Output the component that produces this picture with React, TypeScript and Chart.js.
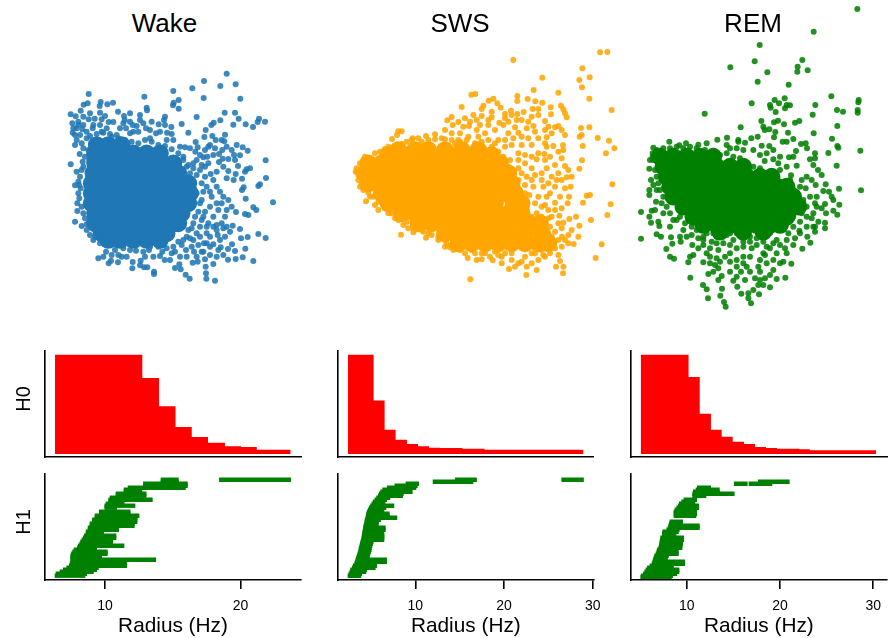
import React, { useEffect, useRef } from "react";
import { Chart, registerables } from "chart.js";

Chart.register(...registerables);

type Pt = [number, number];
type CoreRow = [number, number[]];
type Bar = [number, number, number];

const panelTitles = ["Wake", "SWS", "REM"];
const xTicksWake = [10, 20];
const xTicksSws = [10, 20, 30];
const xTicksRem = [10, 20, 30];

// Scatter clouds, arbitrary projection units. "Core" rows stand for the saturated centre of each cloud.
const wakeCore: CoreRow[] = [
  [255, [140, 175, 215]],
  [280, [135, 170, 210, 250, 290, 330]],
  [310, [135, 170, 210, 250, 290, 330, 370]],
  [340, [130, 160, 200, 240, 280, 320, 360, 385]],
  [370, [125, 155, 195, 235, 275, 315, 355, 395, 415]],
  [400, [125, 155, 195, 235, 275, 315, 355, 395, 420]],
  [430, [125, 155, 195, 235, 275, 315, 355, 395, 415]],
  [460, [135, 170, 210, 250, 290, 330, 370, 395]],
  [490, [135, 170, 210, 250, 290, 330, 370, 385]],
  [520, [155, 190, 230, 270, 310, 350]],
  [540, [175, 210, 250, 290, 330]],
];
const wakeEdge: Pt[] = [[530,41],[462,63],[557,73],[511,78],[427,85],[370,93],[116,102],[283,110],[461,114],[571,116],[386,120],[371,128],[152,126],[113,130],[101,134],[189,128],[172,133],[149,138],[386,146],[369,136],[290,143],[291,151],[92,152],[204,155],[524,158],[555,158],[62,163],[150,158],[165,168],[77,169],[240,160],[222,168],[270,165],[345,170],[440,171],[116,178],[134,176],[566,176],[627,176],[623,186],[511,181],[491,188],[645,185],[587,193],[609,201],[550,194],[395,192],[484,195],[305,185],[342,180],[326,193],[345,195],[364,201],[176,186],[190,186],[224,180],[248,195],[260,198],[280,190],[67,190],[85,185],[97,208],[80,205],[68,218],[128,205],[415,218],[467,210],[351,218],[525,224],[463,231],[487,228],[228,205],[288,205],[318,220],[155,215],[180,222],[200,225],[265,215],[240,220],[80,240],[110,235],[89,282],[75,255],[437,246],[523,244],[515,240],[497,240],[475,260],[560,255],[578,262],[593,272],[517,270],[507,282],[490,285],[420,265],[405,262],[443,262],[436,275],[460,292],[472,290],[570,286],[552,285],[535,297],[518,296],[507,306],[647,301],[62,313],[475,310],[440,300],[400,290],[564,318],[600,325],[590,328],[535,333],[585,335],[557,342],[482,342],[551,360],[576,356],[648,354],[630,373],[625,378],[581,382],[576,390],[500,380],[587,416],[669,427],[610,442],[619,450],[595,465],[585,462],[558,456],[535,420],[545,440],[510,395],[520,410],[500,430],[485,410],[480,440],[505,450],[525,470],[548,497],[490,470],[475,490],[540,515],[570,507],[625,522],[647,534],[593,531],[573,535],[520,505],[500,495],[503,525],[470,520],[450,500],[546,553],[534,567],[555,573],[586,566],[512,562],[490,553],[462,550],[430,540],[75,485],[95,498],[110,493],[82,430],[82,453],[75,376],[87,375],[85,400],[80,335],[100,320],[125,470],[135,510],[130,540],[150,550],[168,575],[195,570],[215,590],[145,595],[183,602],[176,610],[204,607],[248,606],[272,602],[282,622],[292,622],[247,625],[270,616],[312,635],[312,642],[330,588],[344,600],[375,624],[388,613],[392,628],[407,644],[419,656],[468,640],[467,620],[469,656],[495,662],[534,599],[557,597],[578,592],[610,603],[490,612],[443,605],[428,608],[465,598],[240,570],[258,572],[297,570],[337,575],[365,580],[408,570],[432,575],[455,575],[480,585],[300,560],[220,565],[440,345],[455,370],[460,395],[450,430],[435,470],[425,505],[410,530],[385,545],[370,560]];
const wakeFringe: Pt[] = [[95,250],[100,265],[105,290],[98,305],[95,330],[90,350],[85,365],[92,385],[88,415],[95,440],[100,460],[105,475],[110,510],[120,525],[135,530],[118,300],[115,270],[120,228],[140,222],[160,218],[185,230],[205,235],[225,240],[245,245],[265,250],[285,240],[305,245],[325,255],[345,258],[365,268],[385,280],[400,300],[415,315],[430,325],[420,340],[410,360],[425,380],[440,400],[455,420],[470,380],[465,350],[450,330],[490,360],[480,395],[465,455],[445,455],[455,480],[430,490],[440,520],[415,510],[420,535],[395,555],[400,540],[375,575],[350,565],[325,560],[280,575],[260,555],[235,550],[200,545],[180,555],[160,535],[145,525],[470,550],[480,530],[500,510],[515,490],[530,500],[530,450],[515,430],[490,500],[460,470],[470,500],[450,530],[445,555],[425,560],[510,540],[525,530],[480,560],[505,570],[460,575],[500,590],[520,585],[440,590],[410,590],[390,590],[360,600],[310,590],[285,590],[230,590],[205,585],[185,585],[160,590],[130,195],[150,195],[170,205],[210,205],[250,215],[300,210],[330,215],[300,235],[350,240],[370,240],[390,260],[365,222],[220,190],[240,185],[270,180],[155,178],[100,195],[110,215],[90,225],[75,225],[70,205],[100,170],[85,195],[120,160],[410,320],[430,310],[450,285],[465,270],[480,255],[495,265],[530,260],[545,270],[555,300],[520,320],[500,335],[465,320],[455,315],[530,355]];

const swsCore: CoreRow[] = [
  [330, [160, 210, 250, 300, 350, 400]],
  [345, [130, 170, 210, 250, 300, 350, 400, 440]],
  [370, [70, 110, 150, 190, 230, 270, 310, 350, 390, 430, 465]],
  [400, [60, 100, 140, 180, 220, 260, 300, 340, 380, 420, 460, 490]],
  [430, [70, 110, 150, 190, 230, 270, 310, 350, 390, 430, 470, 500]],
  [460, [110, 150, 190, 230, 270, 310, 350, 390, 430, 475, 510]],
  [490, [130, 170, 210, 250, 290, 330, 370, 410, 450, 505, 530]],
  [520, [170, 210, 250, 290, 330, 370, 410, 450, 490, 530]],
  [550, [220, 260, 300, 340, 380, 420, 460, 500, 550, 585]],
  [580, [300, 340, 380, 420, 460, 500, 540, 590]],
  [610, [340, 380, 420, 460, 500, 540, 580, 610]],
];
const swsEdge: Pt[] = [[765,37],[787,36],[505,60],[712,85],[703,120],[734,112],[592,113],[711,142],[566,150],[640,158],[379,164],[391,162],[517,168],[517,183],[548,177],[733,176],[445,176],[431,182],[457,190],[571,184],[592,188],[350,201],[415,197],[410,207],[467,203],[800,210],[617,202],[648,197],[655,208],[580,207],[563,207],[536,216],[517,222],[498,212],[480,222],[618,223],[660,220],[665,232],[600,243],[320,231],[307,241],[340,246],[360,235],[385,225],[410,228],[440,232],[515,240],[550,245],[463,248],[323,255],[405,255],[430,255],[510,262],[545,265],[565,258],[640,258],[630,262],[708,264],[733,262],[170,274],[160,274],[156,285],[141,297],[203,295],[243,288],[270,283],[300,298],[345,280],[372,258],[395,270],[450,270],[490,280],[520,278],[550,295],[605,292],[580,295],[660,285],[704,290],[710,285],[758,294],[792,302],[808,325],[713,318],[783,340],[654,316],[625,318],[605,320],[560,315],[505,295],[530,315],[520,340],[598,342],[640,335],[711,361],[575,358],[630,375],[660,378],[670,390],[703,386],[605,385],[560,385],[540,370],[495,360],[520,385],[665,412],[680,410],[640,400],[570,405],[590,420],[802,433],[540,435],[677,440],[660,445],[630,440],[595,440],[565,440],[615,460],[645,470],[672,470],[668,490],[630,488],[605,470],[580,470],[553,465],[520,465],[735,465],[725,467],[714,488],[600,495],[610,510],[797,493],[787,525],[738,540],[693,530],[673,537],[643,527],[655,548],[703,557],[650,565],[575,520],[610,535],[680,570],[700,590],[670,585],[651,590],[686,612],[770,613],[752,654],[650,620],[640,645],[645,663],[655,680],[633,680],[654,700],[595,645],[575,690],[544,705],[520,670],[492,687],[470,650],[443,661],[410,658],[376,718],[368,654],[345,630],[315,622],[305,610],[205,577],[168,584],[190,565],[243,593],[250,580],[230,570],[175,555],[63,484],[100,510],[90,495],[130,520],[150,535],[38,397],[32,395],[40,420],[60,350],[75,355],[120,327],[155,325],[185,305],[70,458],[85,470],[510,620],[540,650],[560,640],[590,630],[480,640],[450,635],[410,640],[380,630],[620,610],[600,650],[560,670],[530,665],[500,660],[430,625],[355,615],[480,320],[450,310],[430,335],[230,305],[330,310]];
const swsFringe: Pt[] = [[90,340],[105,335],[130,320],[150,318],[170,312],[200,300],[220,295],[250,300],[270,298],[290,295],[320,300],[345,305],[365,300],[390,310],[410,305],[440,320],[460,335],[475,350],[490,380],[480,410],[500,420],[505,450],[530,480],[545,500],[560,530],[585,550],[600,570],[620,590],[630,575],[615,560],[600,555],[610,580],[45,440],[55,450],[75,470],[100,485],[120,505],[140,520],[160,540],[185,545],[205,565],[235,575],[260,585],[280,590],[300,600],[320,615],[350,625],[390,640],[420,640],[460,645],[500,640],[540,625],[570,640],[590,615],[35,385],[45,370],[55,360],[40,405],[50,430],[300,270],[320,280],[340,300],[370,290],[400,290],[420,280],[430,300],[460,300],[480,300],[500,315],[475,255],[490,245],[430,240],[395,240],[375,245],[355,260],[520,360],[540,345],[560,350],[580,340],[600,360],[615,350],[650,355],[655,330],[600,310],[530,400],[545,410],[520,420],[560,420],[590,400],[620,410],[635,420],[610,430],[650,420],[520,445],[540,460],[570,490],[590,500],[630,510],[650,505],[620,530],[640,550],[590,530],[660,600],[670,610],[640,600],[630,625],[615,640],[580,660],[545,680],[510,680],[470,670],[435,650],[395,660],[325,630],[300,620],[280,600],[360,640],[600,270],[620,280],[570,275],[530,290],[480,235],[440,215],[500,225],[530,240],[580,225],[610,260],[650,270],[560,230]];

const remCore: CoreRow[] = [
  [470, [90, 130, 170, 210, 250]],
  [500, [100, 140, 180, 220, 260, 300, 340]],
  [530, [110, 150, 190, 230, 270, 310, 350, 390, 425]],
  [560, [120, 160, 200, 240, 280, 320, 360, 400, 440, 470]],
  [590, [130, 170, 210, 250, 290, 330, 370, 410, 450, 490]],
  [620, [160, 200, 240, 280, 320, 360, 400, 440, 480, 505]],
  [650, [190, 230, 270, 310, 350, 390, 430, 470]],
  [675, [220, 260, 300, 340, 380, 420, 450]],
  [695, [270, 340, 400]],
];
const remEdge: Pt[] = [[682,27],[551,95],[389,135],[374,184],[301,202],[517,180],[503,200],[502,215],[533,211],[412,217],[383,245],[476,254],[604,289],[686,300],[685,307],[464,295],[434,300],[447,310],[365,310],[420,315],[470,315],[480,316],[556,315],[465,325],[422,323],[437,336],[621,330],[639,335],[683,330],[683,338],[224,341],[548,344],[444,362],[432,367],[394,363],[508,363],[495,368],[462,373],[622,378],[332,382],[400,380],[404,390],[418,388],[436,396],[474,398],[551,400],[606,416],[291,413],[262,419],[325,420],[364,415],[383,410],[432,412],[490,417],[118,425],[168,430],[148,436],[70,443],[205,434],[230,430],[290,435],[325,425],[345,428],[395,437],[418,438],[458,425],[470,425],[513,432],[527,430],[622,438],[625,443],[531,445],[691,452],[595,459],[555,460],[498,453],[477,472],[490,470],[430,478],[445,490],[404,483],[555,475],[540,478],[620,497],[550,495],[500,497],[58,506],[68,470],[68,460],[564,510],[575,525],[483,526],[515,540],[545,540],[557,555],[587,553],[627,566],[693,571],[527,565],[580,573],[597,575],[605,590],[610,600],[628,614],[622,644],[610,632],[585,612],[560,620],[575,625],[588,640],[585,668],[585,685],[565,665],[555,680],[545,655],[520,610],[63,540],[58,570],[58,585],[78,605],[33,636],[58,650],[65,632],[75,630],[85,665],[88,678],[63,668],[33,716],[80,703],[93,710],[109,747],[120,770],[132,776],[123,712],[127,731],[152,725],[175,787],[180,770],[190,765],[187,735],[205,715],[220,735],[245,725],[230,760],[220,787],[240,790],[255,795],[270,785],[265,805],[235,822],[250,815],[181,833],[219,855],[230,868],[234,895],[271,887],[276,866],[282,906],[287,920],[265,840],[275,828],[310,842],[322,860],[334,881],[355,880],[363,910],[355,895],[370,870],[387,883],[385,855],[400,855],[420,862],[420,825],[440,837],[466,833],[390,815],[360,815],[333,815],[320,830],[430,810],[450,790],[484,791],[460,785],[405,765],[340,770],[365,745],[300,760],[265,750],[310,720],[380,735],[430,730],[465,745],[490,735],[517,746],[541,728],[532,710],[508,692],[495,715],[475,700],[555,695],[550,680],[140,660],[160,690],[200,690],[120,680],[260,730],[340,725],[420,700],[440,760],[470,720],[490,680],[220,710],[290,705],[360,710],[400,700]];
const remFringe: Pt[] = [[80,450],[100,445],[120,445],[140,440],[160,445],[180,440],[200,445],[225,450],[250,452],[270,465],[290,460],[310,470],[330,475],[350,490],[370,500],[390,505],[410,520],[430,530],[450,545],[470,555],[490,570],[505,590],[520,600],[530,620],[515,640],[300,445],[320,445],[340,450],[370,450],[390,465],[410,460],[430,450],[450,470],[470,500],[450,510],[480,540],[510,560],[530,530],[540,590],[560,590],[555,610],[70,480],[75,510],[80,530],[85,550],[90,570],[100,590],[80,570],[95,610],[110,620],[120,640],[100,640],[130,660],[150,650],[165,670],[185,680],[60,480],[70,555],[210,680],[230,700],[250,700],[270,690],[300,700],[320,700],[350,695],[380,690],[410,690],[440,680],[470,670],[490,650],[510,665],[530,650],[550,640],[530,680],[510,700],[150,710],[170,710],[185,705],[205,745],[220,720],[240,745],[260,710],[280,730],[300,735],[320,745],[340,740],[360,725],[380,715],[400,725],[420,745],[440,720],[450,735],[470,760],[410,740],[400,760],[390,780],[360,770],[340,790],[320,780],[300,785],[285,770],[260,775],[240,770],[430,780],[410,790],[385,800],[350,800],[320,800],[300,815],[405,835],[375,835],[345,840],[390,840]];

// H0 barcode: radius where each level ends, and the share of bars still alive.
const wakeH0Radius = [6.31, 12.75, 13.98, 15.2, 16.4, 17.6, 18.85, 20.04, 21.2, 23.7];
const wakeH0Count = [100, 76.6, 48.2, 27.1, 17.1, 11.4, 7.7, 7, 4.3, 4.3];
const swsH0Radius = [2.41, 5.3, 6.54, 7.78, 9.06, 10.3, 11.54, 12.8, 15.3, 17.8, 28.95];
const swsH0Count = [100, 53.8, 24.4, 14.4, 10, 7.7, 6.4, 6, 5.4, 4.3, 3.7];
const remH0Radius = [5.07, 10.2, 11.4, 12.6, 13.75, 14.93, 16.14, 17.32, 18.5, 19.68, 22.07, 23.2, 30.3];
const remH0Count = [100, 77.6, 40.5, 24.4, 17.4, 12.4, 10, 7, 6, 5.4, 4.7, 3.7, 3.7];

// H1 barcode: [row, birth, death], row 0 is the top one.
const wakeH1: Bar[] = [[0,14.13,15.41],[0,18.44,23.7],[1,14.13,15.41],[2,12.83,16.08],[3,12.83,16.08],[4,11.7,15.93],[5,11.4,12.71],[6,11.4,12.71],[7,10.81,13.03],[8,10.81,13.03],[9,10.37,11.85],[10,10.27,13.49],[11,10.27,11.4],[12,10.07,11.4],[13,9.98,12.21],[14,9.98,10.86],[16,9.58,11.85],[17,9.58,11.85],[18,9.26,12.51],[19,9.26,12.36],[20,9.07,12.36],[21,9.07,12.36],[22,8.89,12.16],[23,8.89,12.16],[24,8.75,11.01],[25,8.75,11.01],[26,8.6,9.88],[27,8.6,9.88],[28,8.47,10.81],[29,8.4,10.81],[30,8.3,10.57],[31,8.2,10.57],[32,8.13,9.63],[33,8.03,11.4],[34,7.96,9.38],[35,7.71,9.38],[36,7.61,10.17],[37,7.52,10.17],[38,7.47,9.63],[39,7.47,9.75],[40,7.47,13.74],[41,7.47,11.6],[42,7.42,11.6],[43,7.37,11.6],[44,7.17,9.51],[45,6.92,9.38],[46,6.68,9.14],[47,6.38,8.65],[48,6.31,8.52]];
const swsH1: Bar[] = [[0,14.5,16.9],[0,26.5,28.95],[1,12,16.5],[2,8.95,10.38],[3,7.7,10.23],[4,6.84,10.08],[5,6.32,8.57],[6,6.09,9.66],[7,5.94,8.65],[8,5.83,8.57],[9,5.64,7.14],[10,5.45,6.77],[11,5.26,6.58],[12,5.11,6.58],[13,4.96,7.59],[14,4.81,6.69],[15,4.7,6.47],[16,4.59,6.2],[17,4.51,7.07],[18,4.47,7.07],[19,4.44,7.93],[20,4.36,6.09],[21,4.32,5.86],[22,4.28,5.83],[23,4.21,5.79],[24,4.17,6.62],[25,4.13,6.62],[26,4.09,5.64],[27,4.06,6.47],[28,4.02,6.47],[29,3.98,6.47],[30,3.95,6.47],[31,3.87,5.26],[32,3.8,5.19],[33,3.76,5.11],[34,3.68,5.04],[35,3.65,5.04],[36,3.61,4.96],[37,3.53,4.89],[38,3.46,4.81],[39,3.38,4.81],[40,3.31,6.77],[41,3.23,6.77],[42,3.16,5.64],[43,3.01,5.64],[44,2.9,5.49],[45,2.71,4.51],[46,2.63,4.44],[47,2.52,3.95],[48,2.41,3.87]];
const remH1: Bar[] = [[1,17.68,21],[2,16.68,19.14],[2,15.1,16.5],[4,11.14,12.57],[5,11,13.5],[6,10.71,13.5],[7,10.64,15.1],[8,10.64,12.07],[10,9.71,11.07],[11,9.46,10.89],[12,9.21,10.64],[13,9.1,11.29],[14,8.93,11.29],[15,8.75,10.36],[16,8.64,11.07],[17,8.64,11.07],[18,8.64,11],[21,8.21,9.57],[22,8.14,9.57],[23,8.07,11.36],[24,8,11.36],[25,7.86,9.21],[26,7.43,9.11],[27,7.39,8.86],[29,7.21,9.68],[30,7.18,9.68],[31,7.14,9.57],[32,7.11,9.57],[33,7.07,9.5],[34,7,9.5],[35,6.86,8.14],[36,6.79,9.11],[37,6.71,9.11],[38,6.57,8.04],[39,6.5,7.93],[40,6.43,7.93],[41,6.36,9.79],[42,6.29,9.79],[43,6.07,8.57],[44,5.79,8.57],[45,5.64,9.18],[46,5.5,9.18],[47,5.36,8.93],[48,5.14,8.5],[48.6,5.07,8.36]];

const FONT = '"Liberation Sans", Arial, sans-serif';
const BLACK = "#000000";
const SPINE = 1.6;

const scatterColumns = [
  { title: 0, color: "#1f77b4", core: wakeCore, edge: [...wakeEdge, ...wakeFringe], box: [50, 60, 240, 240] },
  { title: 1, color: "#ffa500", core: swsCore, edge: [...swsEdge, ...swsFringe], box: [345, 40, 280, 250] },
  { title: 2, color: "#008000", core: remCore, edge: [...remEdge, ...remFringe], box: [630, 0, 259, 320] },
];

const barColumns = [
  { left: 0, width: 305, spine: 45, right: 301, xMin: 5.57, xMax: 24.46, ticks: xTicksWake, h0: [wakeH0Radius, wakeH0Count], h1: wakeH1, labels: true },
  { left: 328, width: 280, spine: 10, right: 265.7, xMin: 1.29, xMax: 30.1, ticks: xTicksSws, h0: [swsH0Radius, swsH0Count], h1: swsH1, labels: false },
  { left: 620, width: 269, spine: 10.7, right: 267, xMin: 4, xMax: 31.47, ticks: xTicksRem, h0: [remH0Radius, remH0Count], h1: remH1, labels: false },
];

const toPoints = (pts: Pt[]) => pts.map(([x, y]) => ({ x, y }));
const coreToPoints = (rows: CoreRow[]) =>
  rows.flatMap(([y, xs]) => xs.map((x) => ({ x, y })));

// The reference centres the y-axis title a little above the axis middle, so the
// title lives on its own blank scale whose top is raised.
const raiseYTitle = {
  id: "raiseYTitle",
  afterLayout(chart: any) {
    chart.scales.yLabel.top -= 10;
  },
};

function yScales(col: any, text: string, min: number, max: number, reverse: boolean) {
  const y: any = {
    type: "linear",
    min,
    max,
    reverse,
    offset: false,
    ticks: { display: false },
    grid: { display: false },
    border: { display: true, color: BLACK, width: SPINE },
    afterFit: (s: any) => {
      s.width = col.labels ? 1 : col.spine;
    },
  };
  if (!col.labels) return { y };
  const yLabel: any = {
    type: "linear",
    position: "left",
    weight: 1,
    display: true,
    min: 0,
    max: 1,
    ticks: { display: false },
    grid: { display: false },
    border: { display: false },
    title: {
      display: true,
      text,
      color: BLACK,
      font: { family: FONT, size: 20 },
      padding: { top: 12, bottom: 0 },
    },
    afterFit: (s: any) => {
      s.width = col.spine - 1;
    },
  };
  return { y, yLabel };
}

function App() {
  const scatterRefs = useRef<(HTMLCanvasElement | null)[]>([]);
  const h0Refs = useRef<(HTMLCanvasElement | null)[]>([]);
  const h1Refs = useRef<(HTMLCanvasElement | null)[]>([]);

  useEffect(() => {
    const charts: Chart[] = [];

    scatterColumns.forEach((col, i) => {
      const [, , w, h] = col.box;
      charts.push(
        new Chart(scatterRefs.current[i]!, {
          type: "scatter",
          data: {
            datasets: [
              {
                data: toPoints(col.edge),
                backgroundColor: col.color + "dd",
                pointRadius: 3,
                pointBorderWidth: 0,
              },
              {
                data: coreToPoints(col.core),
                backgroundColor: col.color,
                pointRadius: 8.8,
                pointBorderWidth: 0,
              },
            ],
          },
          options: {
            animation: false,
            responsive: false,
            layout: { padding: 0, autoPadding: false },
            plugins: { legend: { display: false }, tooltip: { enabled: false } },
            scales: {
              x: { type: "linear", display: false, min: 0, max: w * 3 },
              y: { type: "linear", display: false, min: 0, max: h * 3, reverse: true },
            },
          },
        } as any)
      );
    });

    barColumns.forEach((col, i) => {
      charts.push(
        new Chart(h0Refs.current[i]!, {
          type: "line",
          data: {
            datasets: [
              {
                data: col.h0[0].map((x, k) => ({ x, y: col.h0[1][k] })),
                stepped: true,
                fill: "origin",
                backgroundColor: "#ff0000",
                borderColor: "#ff0000",
                borderWidth: 0,
                pointRadius: 0,
              },
            ],
          },
          plugins: col.labels ? [raiseYTitle] : [],
          options: {
            animation: false,
            responsive: false,
            layout: { autoPadding: false, padding: { top: 6, bottom: 3, left: 0, right: col.width - col.right } },
            plugins: { legend: { display: false }, tooltip: { enabled: false } },
            scales: {
              x: {
                type: "linear",
                min: col.xMin,
                max: col.xMax,
                ticks: { display: false },
                grid: { display: false },
                border: { display: true, color: BLACK, width: SPINE },
                afterFit: (s: any) => {
                  s.height = 0;
                },
              },
              ...yScales(col, "H0", -3, 103.7, false),
            },
          },
        } as any)
      );

      charts.push(
        new Chart(h1Refs.current[i]!, {
          type: "bar",
          data: {
            datasets: [
              {
                data: col.h1.map(([row, a, b]) => ({ x: [a, b], y: row })),
                backgroundColor: "#008000",
                barThickness: 3.7,
                borderWidth: 0,
                grouped: false,
              },
            ],
          },
          plugins: col.labels ? [raiseYTitle] : [],
          options: {
            indexAxis: "y",
            animation: false,
            responsive: false,
            layout: { autoPadding: false, padding: { top: 6, bottom: 0, left: 0, right: col.width - col.right } },
            plugins: { legend: { display: false }, tooltip: { enabled: false } },
            scales: {
              x: {
                type: "linear",
                min: col.xMin,
                max: col.xMax,
                afterBuildTicks: (s: any) => {
                  s.ticks = col.ticks.map((value) => ({ value }));
                },
                ticks: {
                  color: BLACK,
                  font: { family: FONT, size: 14 },
                  padding: 9,
                  maxRotation: 0,
                  autoSkip: false,
                },
                grid: {
                  display: true,
                  drawOnChartArea: false,
                  drawTicks: true,
                  tickLength: 9,
                  color: BLACK,
                  lineWidth: SPINE,
                },
                border: { display: true, color: BLACK, width: SPINE },
                title: {
                  display: true,
                  text: "Radius (Hz)",
                  color: BLACK,
                  font: { family: FONT, size: 20.8 },
                  padding: { top: 0, bottom: 1.5 },
                },
                afterFit: (s: any) => {
                  s.height = 60;
                  s.paddingLeft = 0;
                  s.paddingRight = 0;
                },
              },
              ...yScales(col, "H1", -2.85, 50.15, true),
            },
          },
        } as any)
      );
    });

    return () => charts.forEach((c) => c.destroy());
  }, []);

  const abs = (l: number, t: number, w: number, h: number): React.CSSProperties => ({
    position: "absolute",
    left: l,
    top: t,
    width: w,
    height: h,
    display: "block",
  });

  return (
    <div style={{ position: "fixed", left: 0, top: 0, width: 889, height: 638, overflow: "hidden", background: "#fff" }}>
      {scatterColumns.map((col, i) => (
        <canvas
          key={"s" + i}
          ref={(el) => {
            scatterRefs.current[i] = el;
          }}
          width={col.box[2]}
          height={col.box[3]}
          style={abs(col.box[0], col.box[1], col.box[2], col.box[3])}
        />
      ))}
      {barColumns.map((col, i) => (
        <React.Fragment key={"b" + i}>
          <canvas
            ref={(el) => {
              h0Refs.current[i] = el;
            }}
            width={col.width}
            height={115}
            style={abs(col.left, 345, col.width, 115)}
          />
          <canvas
            ref={(el) => {
              h1Refs.current[i] = el;
            }}
            width={col.width}
            height={172}
            style={abs(col.left, 468, col.width, 172)}
          />
        </React.Fragment>
      ))}
      {panelTitles.map((t, i) => (
        <div
          key={t}
          style={{
            position: "absolute",
            left: [164.5, 460, 753][i] - 100,
            top: 8,
            width: 200,
            textAlign: "center",
            font: `26px/30px ${FONT}`,
            color: BLACK,
          }}
        >
          {t}
        </div>
      ))}
    </div>
  );
}

export default App;
